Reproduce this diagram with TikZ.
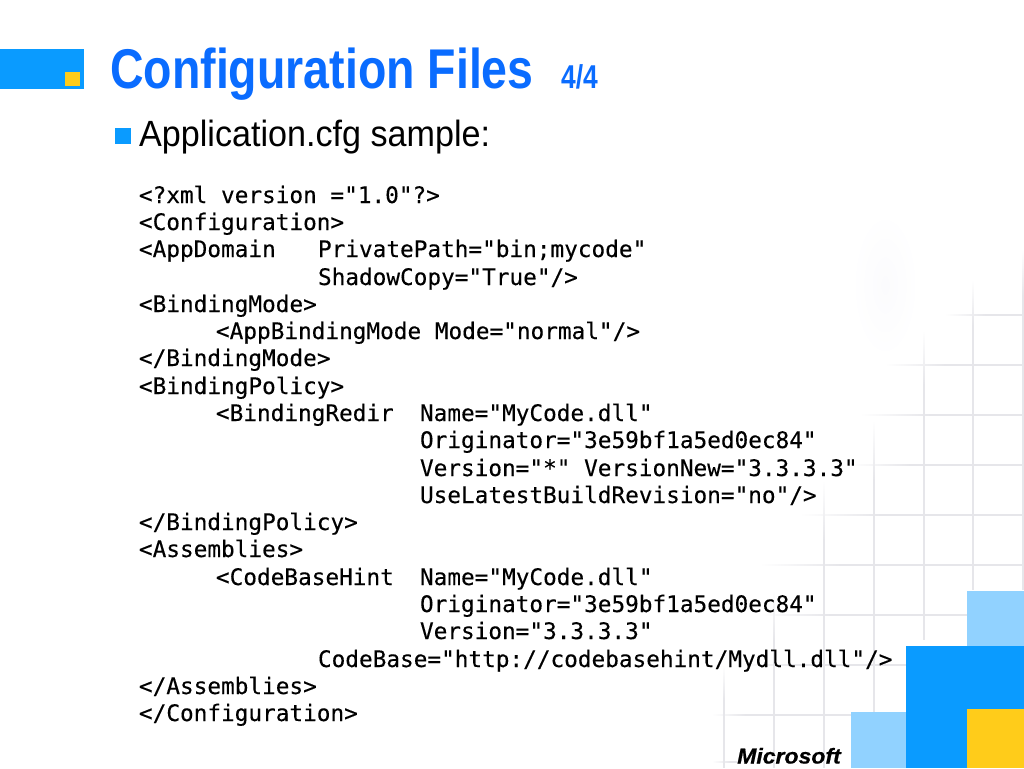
\documentclass[tikz,border=0pt]{standalone}
\usepackage{fontspec}
\setmainfont{Liberation Sans}
\newfontfamily\codefont[FakeBold=0.25]{DejaVu Sans Mono}
\newfontfamily\logofont[FakeBold=0.6]{Liberation Sans Bold Italic}
\usetikzlibrary{calc}
\definecolor{msblue}{HTML}{0A9BFF}
\definecolor{mslight}{HTML}{91D2FF}
\definecolor{msyellow}{HTML}{FFCC1A}
\definecolor{titleblue}{HTML}{0A6CFF}
\definecolor{gridgray}{HTML}{E6E6EA}
\definecolor{smudge}{HTML}{FBFBFD}
\tikzset{
  x=1pt,y=-1pt,
  codeline/.style={anchor=base west,inner sep=0pt,outer sep=0pt,font=\codefont\fontsize{22.72}{24}\selectfont,text=black},
  titletext/.style={anchor=base west,inner sep=0pt,text=titleblue,font=\bfseries\fontsize{56}{60}\selectfont,xscale=0.83,transform shape},
  subtitletext/.style={anchor=base west,inner sep=0pt,text=titleblue,font=\bfseries\fontsize{33}{36}\selectfont,xscale=0.8,transform shape},
  bodytext/.style={anchor=base west,inner sep=0pt,text=black,font=\fontsize{36.5}{40}\selectfont,xscale=0.935,transform shape},
  logotext/.style={anchor=base west,inner sep=0pt,text=black,font=\logofont\fontsize{21.5}{23}\selectfont,xscale=1.07,transform shape},
  block/.style={fill=#1,draw=none},
}
\newcommand{\hfade}[4]{% y, x1, x2, xfull
  \shade[left color=white,right color=gridgray] (#2,#1-.8) rectangle (#3,#1+.8);
  \fill[gridgray] (#3,#1-.9) rectangle (#4,#1+.9);}
\newcommand{\vfade}[4]{% x, y1, y2, yfull
  \shade[top color=white,bottom color=gridgray] (#1-.8,#2) rectangle (#1+.8,#3);
  \fill[gridgray] (#1-.9,#3) rectangle (#1+.9,#4);}
\begin{document}
\begin{tikzpicture}
\useasboundingbox (0,0) rectangle (1024,768);
\fill[white] (0,0) rectangle (1024,768);
% faint smudge
\shade[inner color=smudge,outer color=white,draw=none] (885,285) ellipse (34 and 75);
% background grid
\hfade{315}{945}{985}{1024}
\hfade{365}{885}{945}{1024}
\hfade{415}{860}{930}{1024}
\hfade{465}{850}{910}{1024}
\hfade{515}{800}{880}{1024}
\hfade{565}{760}{840}{1024}
\hfade{615}{760}{830}{967}
\hfade{665}{740}{800}{906}
\hfade{715}{712}{745}{851}
\hfade{762}{712}{730}{737}
\vfade{1023}{250}{295}{590}
\vfade{973}{280}{325}{590}
\vfade{924}{330}{385}{640}
\vfade{874}{420}{480}{712}
\vfade{824}{480}{540}{768}
\vfade{774}{590}{640}{768}
\vfade{724}{665}{700}{768}
% blocks
\fill[block=msblue] (0,49) rectangle (84,89);
\fill[block=msyellow] (65,72) rectangle (80,86);
\fill[block=mslight] (967,591) rectangle (1024,646);
\fill[block=msblue] (906,646) rectangle (1024,768);
\fill[block=msyellow] (967,709) rectangle (1024,768);
\fill[block=mslight] (851,712) rectangle (906,768);
\fill[block=msblue] (115,128) rectangle (131,144);
% heading
\node[titletext] (title) at (110,88) {Configuration Files};
\node[subtitletext] (part) at (561,88) {4/4};
\node[bodytext] (bullet) at (139,146) {Application.cfg sample:};
\node[logotext] (logo) at (737,763.5) {Microsoft};
% code
\node[codeline] (l1) at (139,203) {<?xml version ="1.0"?>};
\node[codeline] (l2) at (139,230) {<Configuration>};
\node[codeline] (l3) at (139,257) {<AppDomain};
\node[codeline] (l3b) at (318,257) {PrivatePath="bin;mycode"};
\node[codeline] (l4) at (318,285) {ShadowCopy="True"/>};
\node[codeline] (l5) at (139,312) {<BindingMode>};
\node[codeline] (l6) at (216,339) {<AppBindingMode Mode="normal"/>};
\node[codeline] (l7) at (139,366) {</BindingMode>};
\node[codeline] (l8) at (139,394) {<BindingPolicy>};
\node[codeline] (l9) at (216,421) {<BindingRedir};
\node[codeline] (l9b) at (420,421) {Name="MyCode.dll"};
\node[codeline] (l10) at (420,448) {Originator="3e59bf1a5ed0ec84"};
\node[codeline] (l11) at (420,476) {Version="*" VersionNew="3.3.3.3"};
\node[codeline] (l12) at (420,503) {UseLatestBuildRevision="no"/>};
\node[codeline] (l13) at (139,530) {</BindingPolicy>};
\node[codeline] (l14) at (139,557) {<Assemblies>};
\node[codeline] (l15) at (216,585) {<CodeBaseHint};
\node[codeline] (l15b) at (420,585) {Name="MyCode.dll"};
\node[codeline] (l16) at (420,612) {Originator="3e59bf1a5ed0ec84"};
\node[codeline] (l17) at (420,639) {Version="3.3.3.3"};
\node[codeline] (l18) at (318,667) {CodeBase="http://codebasehint/Mydll.dll"/>};
\node[codeline] (l19) at (139,694) {</Assemblies>};
\node[codeline] (l20) at (139,721) {</Configuration>};
\end{tikzpicture}
\end{document}
